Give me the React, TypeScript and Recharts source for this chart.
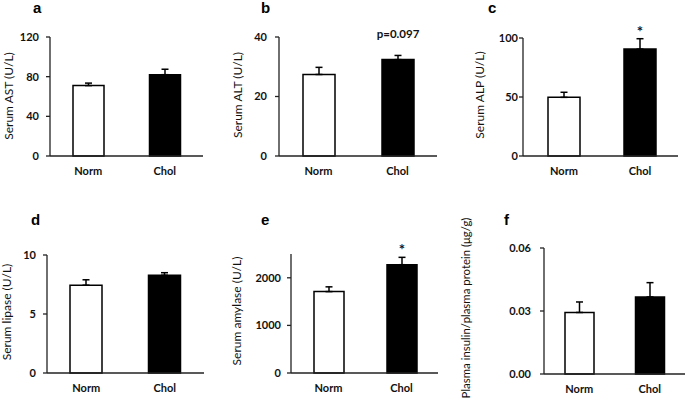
import React from "react"
import { BarChart, Bar, XAxis, YAxis, ErrorBar, LabelList, Cell } from "recharts"

const groups = ["Norm", "Chol"]

const astMean = [71, 82]
const astSem = [2.5, 5.5]
const altMean = [27.4, 32.4]
const altSem = [2.4, 1.4]
const alpMean = [49.7, 90.6]
const alpSem = [4.3, 8.8]
const lipaseMean = [7.44, 8.28]
const lipaseSem = [0.46, 0.22]
const amylaseMean = [1710, 2275]
const amylaseSem = [100, 155]
const insulinMean = [0.0293, 0.0367]
const insulinSem = [0.005, 0.0068]

const altNotes = ["", "p=0.097"]
const alpNotes = ["", "*"]
const amylaseNotes = ["", "*"]
const noNotes = ["", ""]

const FILLS = ["#ffffff", "#000000"]
const FONT = "Lato, 'Open Sans', sans-serif"

interface Panel {
  letter: string
  title: string
  mean: number[]
  sem: number[]
  notes: string[]
  domain: [number, number]
  ticks: number[]
  digits: number
  // layout (page pixels)
  left: number
  top: number
  axisX: number
  plotTop: number
  plotBottom: number
  right: number
  padL: number
  barSize: number
  tickMargin: number
  titleX: number
  titleY: number
  titleSize: number
  noteDy: number
  letterX: number
  letterY: number
}

const panels: Panel[] = [
  {
    letter: "a", title: "Serum AST (U/L)", mean: astMean, sem: astSem, notes: noNotes,
    domain: [0, 120], ticks: [0, 40, 80, 120], digits: 0,
    left: 0, top: 0, axisX: 50, plotTop: 37, plotBottom: 156, right: 203, padL: 0,
    barSize: 31, tickMargin: 7, titleX: 9, titleY: 96, titleSize: 12, noteDy: 0, letterX: 33, letterY: 13,
  },
  {
    letter: "b", title: "Serum ALT (U/L)", mean: altMean, sem: altSem, notes: altNotes,
    domain: [0, 40], ticks: [0, 20, 40], digits: 0,
    left: 228, top: 0, axisX: 279, plotTop: 37, plotBottom: 156, right: 437, padL: 0,
    barSize: 32, tickMargin: 8, titleX: 238, titleY: 95, titleSize: 12, noteDy: 22, letterX: 261, letterY: 13,
  },
  {
    letter: "c", title: "Serum ALP (U/L)", mean: alpMean, sem: alpSem, notes: alpNotes,
    domain: [0, 100], ticks: [0, 50, 100], digits: 0,
    left: 455, top: 0, axisX: 523, plotTop: 38, plotBottom: 156, right: 678, padL: 3,
    barSize: 32, tickMargin: 1, titleX: 480, titleY: 95, titleSize: 12, noteDy: 12, letterX: 488, letterY: 13,
  },
  {
    letter: "d", title: "Serum lipase (U/L)", mean: lipaseMean, sem: lipaseSem, notes: noNotes,
    domain: [0, 10], ticks: [0, 5, 10], digits: 0,
    left: 0, top: 175, axisX: 47, plotTop: 255, plotBottom: 373, right: 204, padL: 0,
    barSize: 32, tickMargin: 7, titleX: 7, titleY: 312, titleSize: 12, noteDy: 0, letterX: 31, letterY: 225,
  },
  {
    letter: "e", title: "Serum amylase (U/L)", mean: amylaseMean, sem: amylaseSem, notes: amylaseNotes,
    domain: [0, 2500], ticks: [0, 1000, 2000], digits: 0,
    left: 228, top: 175, axisX: 291, plotTop: 254, plotBottom: 373, right: 438, padL: 1,
    barSize: 30, tickMargin: 6, titleX: 237, titleY: 311, titleSize: 12, noteDy: 10, letterX: 261, letterY: 225,
  },
  {
    letter: "f", title: "Plasma insulin/plasma protein (μg/g)", mean: insulinMean, sem: insulinSem, notes: noNotes,
    domain: [0, 0.06], ticks: [0, 0.03, 0.06], digits: 2,
    left: 455, top: 175, axisX: 544, plotTop: 248, plotBottom: 374, right: 685, padL: 0,
    barSize: 29, tickMargin: 9, titleX: 466, titleY: 308, titleSize: 11.4, noteDy: 0, letterX: 504, letterY: 225,
  },
]

function PanelChart({ p }: { p: Panel }) {
  const data = groups.map((g, i) => ({
    group: g,
    mean: p.mean[i],
    err: [0, p.sem[i]],
    note: p.notes[i],
  }))
  const yWidth = p.axisX - p.left
  const marginTop = p.plotTop - p.top
  const xHeight = 30
  const width = p.right - p.left
  const height = p.plotBottom - p.top + xHeight
  const titleCx = p.titleX - p.left + 4
  const titleCy = p.titleY - p.top

  return (
    <div style={{ position: "absolute", left: p.left, top: p.top }}>
      <BarChart
        width={width}
        height={height}
        data={data}
        margin={{ top: marginTop, right: 0, bottom: 0, left: 0 }}
      >
        <XAxis
          dataKey="group"
          height={xHeight}
          padding={{ left: p.padL, right: 0 }}
          axisLine={{ stroke: "#222", strokeWidth: 1.3 }}
          tickLine={false}
          tickSize={0}
          tickMargin={11}
          tick={{ fontSize: 11, fontWeight: 700, fill: "#111", fontFamily: FONT }}
        />
        <YAxis
          width={yWidth}
          domain={p.domain}
          ticks={p.ticks}
          interval={0}
          tickFormatter={(v: number) => v.toFixed(p.digits)}
          axisLine={{ stroke: "#222", strokeWidth: 1.3 }}
          tickLine={{ stroke: "#222", strokeWidth: 1.3 }}
          tickSize={4}
          tickMargin={p.tickMargin}
          tick={{ fontSize: 11, fontWeight: 700, fill: "#111", fontFamily: FONT }}
          label={{
            value: p.title,
            content: () => (
              <text
                x={titleCx}
                y={titleCy}
                transform={`rotate(-90, ${titleCx}, ${titleCy})`}
                textAnchor="middle"
                fontSize={p.titleSize}
                fill="#111"
                fontFamily={FONT}
              >
                {p.title}
              </text>
            ),
          }}
        />
        <Bar dataKey="mean" barSize={p.barSize} stroke="#000" strokeWidth={1.5} isAnimationActive={false}>
          {data.map((d, i) => (
            <Cell key={d.group} fill={FILLS[i]} />
          ))}
          <ErrorBar dataKey="err" direction="y" width={3.5} stroke="#000" strokeWidth={1.5} isAnimationActive={false} />
          <LabelList
            dataKey="note"
            content={(lp: any) => {
              if (!lp.value) return null
              const star = lp.value === "*"
              return (
                <text
                  x={Number(lp.x) + Number(lp.width) / 2}
                  y={Number(lp.y) - p.noteDy}
                  textAnchor="middle"
                  fontSize={star ? 15 : 11.5}
                  fontWeight={700}
                  fill="#111"
                  fontFamily={FONT}
                >
                  {lp.value}
                </text>
              )
            }}
          />
        </Bar>
      </BarChart>
    </div>
  )
}

export default function App() {
  return (
    <div style={{ position: "absolute", left: 0, top: 0, width: 685, height: 416, background: "#fff", fontFamily: FONT }}>
      {panels.map((p) => (
        <PanelChart key={p.letter} p={p} />
      ))}
      <svg width={685} height={416} style={{ position: "absolute", left: 0, top: 0, pointerEvents: "none" }}>
        {panels.map((p) => (
          <text
            key={p.letter}
            x={p.letterX}
            y={p.letterY}
            fontSize={15}
            fontWeight={700}
            fill="#000"
            fontFamily="'Liberation Sans', Arial, sans-serif"
          >
            {p.letter}
          </text>
        ))}
      </svg>
    </div>
  )
}
